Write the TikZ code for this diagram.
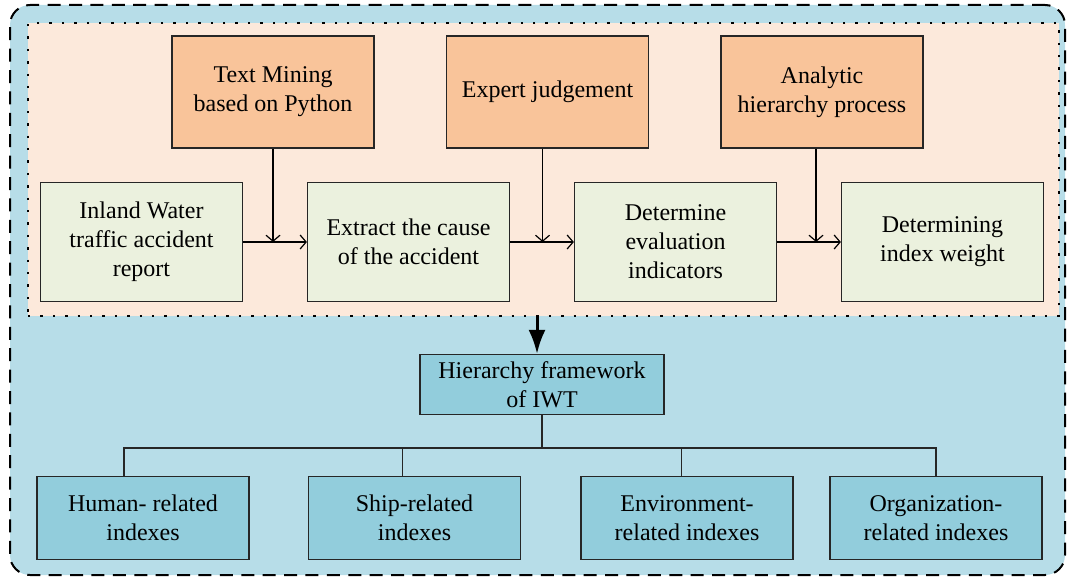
\documentclass[tikz,border=0pt]{standalone}
\usepackage{fontspec}
\setmainfont{Liberation Serif}
\usetikzlibrary{arrows.meta}
\definecolor{frameblue}{HTML}{B7DDE8}
\definecolor{stagepeach}{HTML}{FCE9DB}
\definecolor{toolorange}{HTML}{F9C49A}
\definecolor{stepgreen}{HTML}{EBF1DE}
\definecolor{indexblue}{HTML}{92CDDC}
\begin{document}
\begin{tikzpicture}[x=0.5pt, y=-0.5pt, node distance=133.5pt,
    box/.style = {draw=black!85, line width=0.6pt, align=center, inner sep=0pt, font=\fontsize{12}{14.5}\selectfont},
    tool/.style = {box, fill=toolorange, minimum width=101pt, minimum height=56pt},
    stepbox/.style = {box, fill=stepgreen, minimum width=101pt, minimum height=59.5pt},
    index/.style = {box, fill=indexblue, minimum width=106pt, minimum height=41.5pt},
    flow/.style = {-{Straight Barb[length=3pt,width=7pt]}, line width=0.6pt},
    link/.style = {line width=0.7pt, draw=black!85}]
    \useasboundingbox (0,0) rectangle (1068,577);

    \node[draw, fill=frameblue, rounded corners=10pt, line width=1pt, dash pattern=on 6.5pt off 4.2pt,
          minimum width=527.5pt, minimum height=285pt, inner sep=0pt] (frame) at (537.5,290) {};
    \node[draw, fill=stagepeach, line width=1.3pt, dash pattern=on 1.2pt off 5pt,
          minimum width=515.5pt, minimum height=146.5pt, inner sep=0pt] (stage) at (543.5,169.5) {};

    \node[tool] (mining) at (273,92) {Text Mining\\based on Python};
    \node[tool] (judge) at (547.5,92) {Expert judgement};
    \node[tool] (ahp) at (822,92) {Analytic\\hierarchy process};

    \node[stepbox] (report) at (141.5,242) {Inland Water\\traffic accident\\report};
    \node[stepbox] (cause) [right of=report] {Extract the cause\\of the accident};
    \node[stepbox] (indic) [right of=cause] {Determine\\evaluation\\indicators};
    \node[stepbox] (weight) [right of=indic] {Determining\\index weight};

    \node[index, minimum width=122pt, minimum height=30pt] (hier) at (542,384.5) {Hierarchy framework\\of IWT};
    \node[index] (hum) at (143,518) {Human- related\\indexes};
    \node[index] (ship) at (414.5,518) {Ship-related\\indexes};
    \node[index] (env) at (687,518) {Environment-\\related indexes};
    \node[index] (org) at (936,518) {Organization-\\related indexes};
    \coordinate (bar) at (542,448);

    \draw[flow] (report) -- (cause);
    \draw[flow] (cause) -- (indic);
    \draw[flow] (indic) -- (weight);
    \draw[flow] (mining.south) -- (mining.south |- report.east);
    \draw[flow] ([xshift=-2.5pt]judge.south) -- ([xshift=-2.5pt]judge.south |- cause.east);
    \draw[flow] ([xshift=-3pt]ahp.south) -- ([xshift=-3pt]ahp.south |- indic.east);

    \draw[-{Latex[length=12pt,width=8.5pt]}, line width=1.5pt] ([xshift=-3.25pt]stage.south) -- ([xshift=-2.5pt]hier.north);

    \draw[link] (hier.south) -- (hier.south |- bar);
    \draw[link] ([xshift=-9.5pt]hum.north) |- (org.north |- bar) -- (org.north);
    \draw[link] ([xshift=-6pt]ship.north) -- ([xshift=-6pt]ship.north |- bar);
    \draw[link] ([xshift=-2.75pt]env.north) -- ([xshift=-2.75pt]env.north |- bar);
\end{tikzpicture}
\end{document}
